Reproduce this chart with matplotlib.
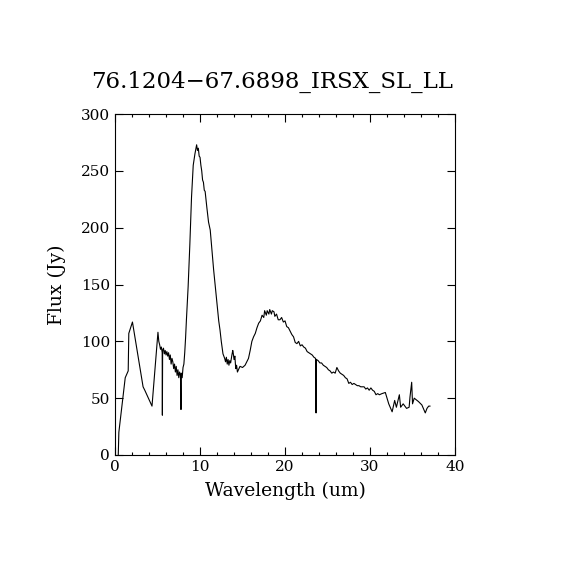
import matplotlib
matplotlib.use("Agg")
import matplotlib.pyplot as plt
from matplotlib.ticker import MultipleLocator

title = "76.1204\u221267.6898_IRSX_SL_LL"

# wavelength (um) and flux (Jy)
wave = [0.38, 0.45, 1.2, 1.55, 1.62, 2.05, 3.3, 3.5, 4.35,
        5.05, 5.15, 5.25, 5.35, 5.45, 5.55, 5.57, 5.6, 5.7, 5.8, 5.9,
        6.0, 6.1, 6.2, 6.3, 6.4, 6.5, 6.6, 6.7, 6.8, 6.9,
        7.0, 7.1, 7.2, 7.3, 7.4, 7.5, 7.6, 7.7, 7.76, 7.8, 7.9,
        8.0, 8.1, 8.2, 8.3, 8.4, 8.6, 8.8, 9.0, 9.2, 9.4, 9.6, 9.7, 9.8, 9.9,
        10.0, 10.1, 10.2, 10.3, 10.4, 10.5, 10.6, 10.8, 11.0, 11.2, 11.4,
        11.6, 11.8, 12.0, 12.2, 12.35, 12.5, 12.7, 12.9, 13.0, 13.1, 13.2,
        13.3, 13.4, 13.5, 13.6, 13.75, 13.85, 13.9, 14.0, 14.1, 14.2, 14.3,
        14.4, 14.7, 15.0, 15.3, 15.5, 15.7, 15.9, 16.1, 16.3, 16.5, 16.7,
        16.9, 17.1, 17.3, 17.5, 17.6, 17.8, 17.9, 18.1, 18.2, 18.4, 18.5,
        18.7, 18.8, 19.0, 19.2, 19.4, 19.6, 19.8, 20.0, 20.2, 20.4, 20.6,
        20.8, 21.0, 21.2, 21.4, 21.6, 21.8, 22.0, 22.2, 22.4, 22.6, 22.8,
        23.0, 23.2, 23.4, 23.6, 23.65, 23.7, 23.9, 24.1, 24.3, 24.5, 24.7,
        24.9, 25.1, 25.3, 25.5, 25.7, 25.9, 26.1, 26.3, 26.5, 26.7, 26.9,
        27.1, 27.3, 27.5, 27.7, 27.9, 28.1, 28.3, 28.5, 28.7, 28.9, 29.1,
        29.3, 29.5, 29.7, 29.9, 30.1, 30.3, 30.5, 30.7, 30.9, 31.1, 31.4,
        31.8, 32.2, 32.6, 32.9, 33.1, 33.45, 33.6, 33.9, 34.3, 34.6, 34.7,
        34.9, 35.0, 35.2, 35.7, 36.1, 36.5, 36.7, 36.9, 37.05]

flux = [0, 20, 68, 74, 107, 117, 60, 57, 43,
        108, 100, 97, 93, 95, 90, 35, 92, 94, 89, 92,
        88, 91, 87, 90, 84, 88, 80, 85, 82, 76,
        80, 73, 78, 70, 75, 68, 73, 70, 40, 72, 68,
        77, 80, 90, 103, 119, 148, 185, 227, 255, 265, 273, 268, 270, 263,
        262, 255, 250, 242, 240, 233, 232, 218, 205, 198, 180,
        163, 148, 133, 118, 110, 100, 89, 85, 82, 86, 80,
        84, 79, 83, 81, 88, 92, 90, 84, 87, 76, 79,
        73, 78, 77, 79, 82, 85, 92, 100, 104, 107, 112,
        116, 118, 123, 121, 127, 123, 127, 124, 128, 124, 127,
        126, 122, 124, 119, 119, 121, 117, 118, 113, 112, 109,
        106, 104, 99, 98, 100, 96, 97, 95, 94, 91, 90,
        89, 88, 86, 85, 37, 84, 83, 81, 81, 79, 78,
        77, 75, 74, 72, 73, 72, 77, 74, 72, 71, 70,
        68, 67, 63, 64, 62, 63, 62, 61, 61, 60, 60,
        60, 58, 59, 57, 59, 57, 56, 53, 54, 53, 54,
        55, 45, 38, 48, 42, 53, 42, 45, 41, 42, 51,
        64, 45, 50, 47, 44, 37, 41, 43, 43]

plt.rcParams['font.family'] = ['DejaVu Serif']

fig = plt.figure(figsize=(5.7, 5.7), dpi=100)
ax = fig.add_axes([0.2018, 0.2018, 0.5965, 0.598])
ax.plot(wave, flux, color='black', lw=0.8)

ax.set_xlim(0, 40)
ax.set_ylim(0, 300)
ax.xaxis.set_major_locator(MultipleLocator(10))
ax.xaxis.set_minor_locator(MultipleLocator(2))
ax.yaxis.set_major_locator(MultipleLocator(50))
ax.tick_params(which='both', direction='in', top=True, right=True,
               labelsize=11, width=0.8, colors='black')
ax.tick_params(which='major', length=5.5)
ax.tick_params(which='minor', length=2.5)
for s in ax.spines.values():
    s.set_linewidth(0.8)

ax.set_xlabel("Wavelength (um)", fontsize=13.5, va='center')
ax.set_ylabel("Flux (Jy)", fontsize=13.5, va='center')
ax.xaxis.set_label_coords(0.5, (455 - 491) / 341)
ax.yaxis.set_label_coords((57 - 115) / 340, 0.5)
fig.text(272 / 570, 1 - 82 / 570, title, ha='center', va='center', fontsize=16.5)

fig.savefig("out.png", dpi=100)
